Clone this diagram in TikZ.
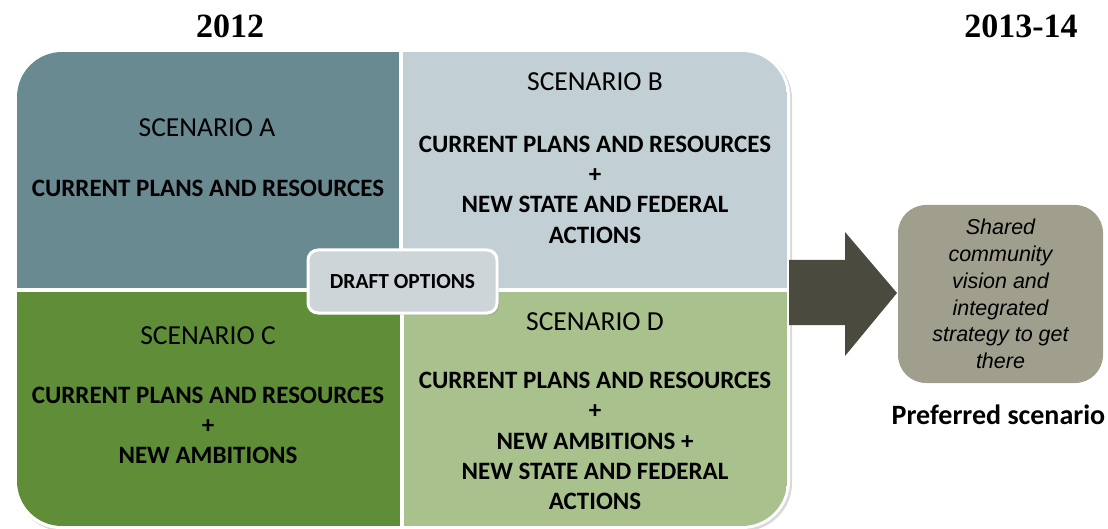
\documentclass[tikz,border=0pt]{standalone}
\usepackage{fontspec}
\setmainfont{Carlito}
\newfontfamily\yearfont{Liberation Serif}
\newfontfamily\arialfont{Liberation Sans}
\usetikzlibrary{shadows}

\definecolor{quadA}{HTML}{6A8A92}
\definecolor{quadB}{HTML}{C2D0D5}
\definecolor{quadC}{HTML}{5F8D38}
\definecolor{quadD}{HTML}{A9C18C}
\definecolor{draftfill}{HTML}{CDD5D8}
\definecolor{arrowcol}{HTML}{4A4A3F}
\definecolor{prefill}{HTML}{A09F8D}

\tikzset{
  scentitle/.style={font=\fontsize{27.5}{30}\selectfont, inner sep=0pt},
  scenbody/.style={font=\fontsize{25}{30.3}\selectfont\bfseries, align=center, inner sep=0pt},
  yearlabel/.style={font=\yearfont\fontsize{34}{38}\selectfont\bfseries, inner sep=0pt},
  draftbox/.style={fill=draftfill, draw=white, line width=3pt, rounded corners=10pt,
    minimum width=189pt, minimum height=63pt, inner sep=0pt,
    font=\fontsize{21.5}{24}\selectfont\bfseries,
    drop shadow={shadow xshift=2pt, shadow yshift=-2pt, opacity=0.35}},
  prefbox/.style={fill=prefill, rounded corners=28pt, minimum width=205pt, minimum height=178pt,
    inner sep=0pt, align=center, font=\arialfont\itshape\fontsize{21.5}{26.8}\selectfont},
}

\begin{document}
\begin{tikzpicture}[x=1pt, y=-1pt]
\useasboundingbox (0,0) rectangle (1108,529);

% white frame around the four scenarios
\fill[white, rounded corners=48pt,
  drop shadow={shadow xshift=2pt, shadow yshift=-2pt, opacity=0.3}] (13,49) rectangle (790,529);

% the four scenario panels
\begin{scope}
  \clip[rounded corners=45pt] (17,52) rectangle (787,526);
  \fill[quadA] (17,52) rectangle (399,288);
  \fill[quadB] (403,52) rectangle (787,288);
  \fill[quadC] (17,292) rectangle (400,526);
  \fill[quadD] (404,292) rectangle (787,526);
\end{scope}

% block arrow towards the preferred scenario
\fill[arrowcol] (789,260) -- (845,260) -- (845,232) -- (897,293)
  -- (845,356) -- (845,325) -- (789,325) -- cycle;

% years
\node[yearlabel] (y2012) at (230,26) {2012};
\node[yearlabel] (y2013) at (1021,26) {2013-14};

% scenario A
\node[scentitle] (sa) at (207,128) {SCENARIO A};
\node[scenbody] (ba) at (208,188) {CURRENT PLANS AND RESOURCES};

% scenario B
\node[scentitle] (sb) at (595,82) {SCENARIO B};
\node[scenbody] (bb) at (595,189.5) {CURRENT PLANS AND RESOURCES\\+\\NEW STATE AND FEDERAL\\ACTIONS};

% scenario C
\node[scentitle] (sc) at (208,336) {SCENARIO C};
\node[scenbody] (bc) at (208,425.5) {CURRENT PLANS AND RESOURCES\\+\\NEW AMBITIONS};

% scenario D
\node[scentitle] (sd) at (595,322) {SCENARIO D};
\node[scenbody] (bd) at (595,441) {CURRENT PLANS AND RESOURCES\\+\\NEW AMBITIONS +\\NEW STATE AND FEDERAL\\ACTIONS};

% centre label
\node[draftbox] (draft) at (402.5,281.5) {DRAFT OPTIONS};

% preferred scenario
\node[prefbox] (pref) at (1000.5,294) {Shared\\community\\vision and\\integrated\\strategy to get\\there};
\node[anchor=base, inner sep=0pt, font=\fontsize{28}{30}\selectfont\bfseries] (preflabel) at (998.5,424) {Preferred scenario};
\end{tikzpicture}
\end{document}
